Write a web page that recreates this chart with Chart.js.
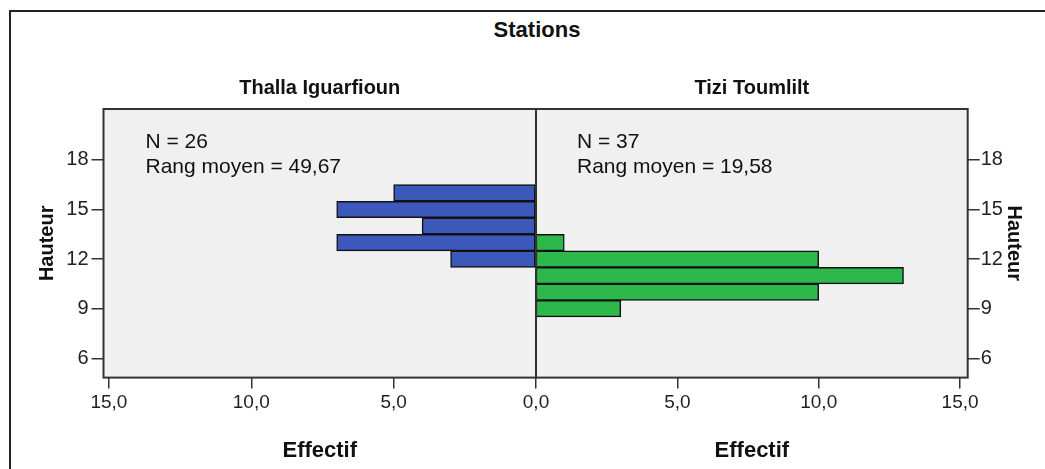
<!DOCTYPE html>
<html>
<head>
<meta charset="utf-8">
<title>Hauteur par station</title>
<style>
  body { margin: 0; background: #fff; }
  #wrap { position: relative; width: 1045px; height: 469px; overflow: hidden; font-family: "Liberation Sans", Arial, sans-serif; }
  #frame { position: absolute; left: 9px; top: 10px; width: 1100px; height: 500px; border-top: 2px solid #222; border-left: 2px solid #222; }
  #titre { position: absolute; left: 0; width: 1074px; top: 17px; line-height: 26px; text-align: center; font-weight: bold; font-size: 22px; color: #111; }
  #leftChart { position: absolute; left: 0; top: 0; }
  #rightChart { position: absolute; left: 512px; top: 0; }
</style>
</head>
<body>
<div id="wrap">
  <div id="frame"></div>
  <div id="titre">Stations</div>
  <canvas id="leftChart" width="560" height="469"></canvas>
  <canvas id="rightChart" width="533" height="469"></canvas>
</div>

<script src="https://cdn.jsdelivr.net/npm/chart.js"></script>
<script>
  // classes de hauteur (centre de classe) et effectifs
  const thallaClasses = [12, 13, 14, 15, 16];
  const thallaEffectif = [3, 7, 4, 7, 5];
  const tiziClasses = [9, 10, 11, 12, 13];
  const tiziEffectif = [3, 10, 13, 10, 1];

  const hauteurTicks = [6, 9, 12, 15, 18];
  const effectifTicksLeft = [0, 5, 10, 15];
  const effectifTicksRight = [5, 10, 15];

  const thallaStats = ['N = 26', 'Rang moyen = 49,67'];
  const tiziStats = ['N = 37', 'Rang moyen = 19,58'];

  const FONT = '"Liberation Sans", Arial, sans-serif';
  const INK = '#222';

  const fmt = v => v.toFixed(1).replace('.', ',');

  // fond gris + cadre de la zone de tracé, et texte N / rang moyen
  const panelPlugin = {
    id: 'panel',
    beforeDraw(chart) {
      const a = chart.chartArea, ctx = chart.ctx;
      ctx.save();
      ctx.fillStyle = '#f0f0f0';
      ctx.fillRect(a.left, a.top, a.right - a.left, a.bottom - a.top);
      ctx.restore();
    },
    afterDatasetsDraw(chart, args, opts) {
      const a = chart.chartArea, ctx = chart.ctx;
      ctx.save();
      ctx.strokeStyle = '#333';
      ctx.lineWidth = 2;
      ctx.strokeRect(a.left, a.top, a.right - a.left, a.bottom - a.top);
      ctx.font = '21px ' + FONT;
      ctx.fillStyle = '#111';
      ctx.textBaseline = 'alphabetic';
      opts.lines.forEach((t, i) => {
        ctx.fillText(t, a.left + opts.dx, a.top + 39 + i * 25);
      });
      ctx.restore();
    }
  };

  function toPoints(classes, values) {
    return classes.map((c, i) => ({ x: values[i], y: c }));
  }

  function makePanel(id, cfg) {
    const ctx = document.getElementById(id).getContext('2d');
    return new Chart(ctx, {
      type: 'bar',
      data: {
        datasets: [{
          data: toPoints(cfg.classes, cfg.values),
          backgroundColor: cfg.color,
          borderColor: '#111',
          borderWidth: 1.5,
          borderSkipped: false,
          barPercentage: 1,
          categoryPercentage: 1
        }]
      },
      options: {
        indexAxis: 'y',
        responsive: false,
        animation: false,
        layout: { padding: cfg.padding },
        plugins: {
          legend: { display: false },
          tooltip: { enabled: false },
          title: {
            display: true,
            text: cfg.title,
            fullSize: false,
            color: '#111',
            font: { family: FONT, size: 20, weight: 'bold' },
            padding: { top: 0, bottom: 9 }
          },
          panel: { lines: cfg.stats, dx: cfg.dx }
        },
        scales: {
          x: {
            type: 'linear',
            reverse: cfg.reverse,
            min: 0,
            max: cfg.xMax,
            afterBuildTicks: s => { s.ticks = cfg.xTicks.map(v => ({ value: v })); },
            afterFit: s => { s.height = 91.4; },
            ticks: { callback: v => fmt(v), color: INK, font: { family: FONT, size: 19 }, padding: 3, maxRotation: 0, autoSkip: false },
            grid: { drawOnChartArea: false, drawTicks: true, tickLength: 11, color: '#333', lineWidth: 1.5 },
            border: { display: false },
            title: { display: true, text: 'Effectif', color: '#111', font: { family: FONT, size: 22, weight: 'bold' }, padding: { top: 0, bottom: 5 } }
          },
          y: {
            type: 'linear',
            position: cfg.yPos,
            offset: false,
            min: 4.83,
            max: 21.08,
            afterBuildTicks: s => { s.ticks = hauteurTicks.map(v => ({ value: v })); },
            afterFit: s => { s.width = cfg.yWidth; },
            ticks: { color: INK, font: { family: FONT, size: 20 }, padding: cfg.yPad },
            grid: { offset: false, drawOnChartArea: false, drawTicks: true, tickLength: 12, color: '#333', lineWidth: 1.5 },
            border: { display: false },
            title: { display: true, text: 'Hauteur', color: '#111', font: { family: FONT, size: 20, weight: 'bold' }, padding: { top: cfg.yTitlePad, bottom: 0 } }
          }
        }
      },
      plugins: [panelPlugin]
    });
  }

  makePanel('leftChart', {
    classes: thallaClasses, values: thallaEffectif, color: '#3c58bb',
    title: 'Thalla Iguarfioun', stats: thallaStats, dx: 42,
    reverse: true, xMax: 15.19, xTicks: effectifTicksLeft,
    yPos: 'left', yWidth: 103.5, yPad: 3, yTitlePad: 35,
    padding: { left: 0, right: 24, top: 76, bottom: 0 }
  });

  makePanel('rightChart', {
    classes: tiziClasses, values: tiziEffectif, color: '#2eb84b',
    title: 'Tizi Toumlilt', stats: tiziStats, dx: 41,
    reverse: false, xMax: 15.27, xTicks: effectifTicksRight,
    yPos: 'right', yWidth: 77.3, yPad: 1, yTitlePad: 19,
    padding: { left: 24, right: 0, top: 76, bottom: 0 }
  });
</script>
</body>
</html>
